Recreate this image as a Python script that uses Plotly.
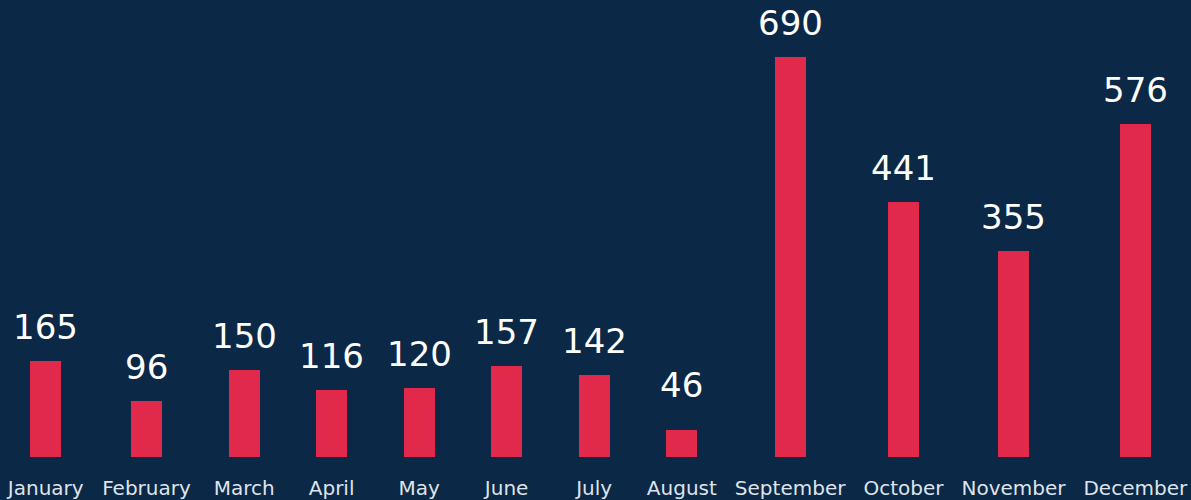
import plotly.graph_objects as go

# ---- data ----
months = ["January", "February", "March", "April", "May", "June",
          "July", "August", "September", "October", "November", "December"]
values = [165, 96, 150, 116, 120, 157, 142, 46, 690, 441, 355, 576]

# ---- style ----
BG = "#0b2846"
BAR = "#e0294b"
VALUE_COLOR = "#ffffff"
TICK_COLOR = "#dfe3ea"
FONT = "'DejaVu Sans', sans-serif"
TICK_SIZE = 20
VALUE_SIZE = 34
W, H = 1191, 500
BASE_PX = 43  # bottom margin (baseline)
LABEL_FLOOR = 65  # value labels never sit lower than this level

# Category slot widths follow label text widths (flex-like layout),
# estimated from DejaVu Sans advance widths (em units).
ADV = {
    "J": .295, "F": .575, "M": .863, "A": .684, "S": .635, "O": .787,
    "N": .748, "D": .770, "a": .613, "b": .635, "c": .550, "e": .615,
    "g": .635, "h": .634, "i": .278, "l": .278, "m": .974, "n": .634,
    "o": .612, "p": .635, "r": .411, "s": .521, "t": .392, "u": .634,
    "v": .592, "y": .592,
}


def text_width(s, size):
    return sum(ADV.get(ch, 0.6) for ch in s) * size


MIN_LABEL = 69.5
GAP = 18
slots = [max(text_width(m, TICK_SIZE), MIN_LABEL) + GAP for m in months]
centers = []
acc = 0.0
for s in slots:
    centers.append(acc + s / 2)
    acc += s

x_offset = 1.2
x_range = [x_offset, x_offset + W]

plot_h = H - BASE_PX
px_per_unit = 0.579
y_max = plot_h / px_per_unit

fig = go.Figure()
fig.add_trace(go.Bar(
    x=centers, y=values, width=31,
    marker=dict(color=BAR, line=dict(width=0)),
    hoverinfo="skip",
))

for xc, v in zip(centers, values):
    fig.add_annotation(
        x=xc, y=max(v, LABEL_FLOOR), text=str(v), showarrow=False,
        xanchor="center", yanchor="bottom", yshift=12,
        font=dict(family=FONT, size=VALUE_SIZE, color=VALUE_COLOR),
    )

fig.update_layout(
    width=W, height=H,
    paper_bgcolor=BG, plot_bgcolor=BG,
    margin=dict(l=0, r=0, t=0, b=BASE_PX, pad=0),
    showlegend=False,
    bargap=0,
    xaxis=dict(
        range=x_range, tickmode="array", tickvals=centers, ticktext=months,
        showgrid=False, zeroline=False, showline=False, ticks="",
        tickfont=dict(family=FONT, size=TICK_SIZE, color=TICK_COLOR),
        ticklabelstandoff=17,
    ),
    yaxis=dict(range=[0, y_max], visible=False, showgrid=False, zeroline=False),
)

fig.write_html("out.html", config={"displayModeBar": False},
               post_script="document.body.style.margin='0';")
